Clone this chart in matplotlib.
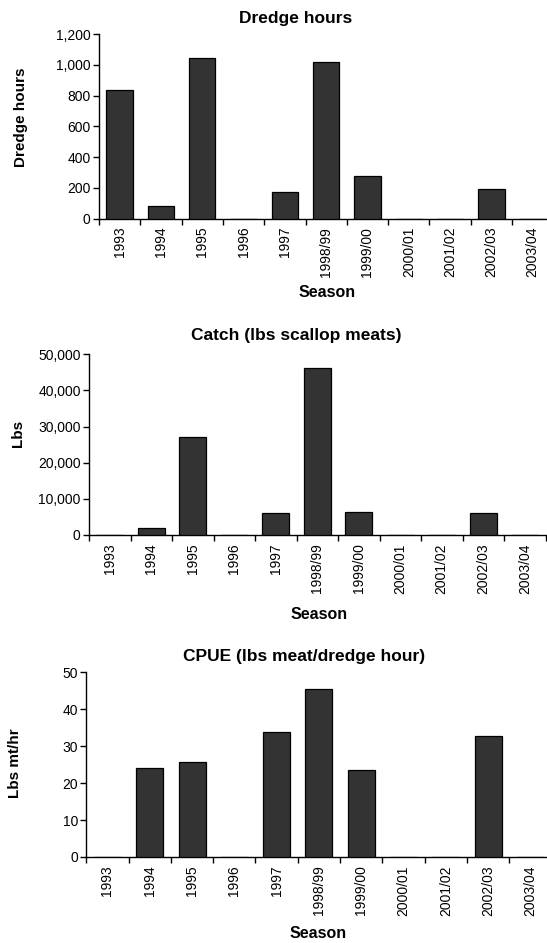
import matplotlib
matplotlib.use("Agg")
import matplotlib.pyplot as plt
from matplotlib.ticker import FuncFormatter, FixedLocator

plt.rcParams['font.family'] = ['Liberation Sans', 'DejaVu Sans']

seasons = ['1993', '1994', '1995', '1996', '1997', '1998/99', '1999/00',
           '2000/01', '2001/02', '2002/03', '2003/04']

# values
dredge_hours = [837, 83, 1045, 0, 171, 1020, 279, 0, 0, 190, 0]
catch_lbs = [0, 1840, 27100, 0, 5960, 46200, 6340, 0, 0, 5960, 0]
cpue = [0, 24.0, 25.7, 0, 33.8, 45.4, 23.6, 0, 0, 32.7, 0]

W, H = 547, 943

# plot area edges in pixels, width of one category, text anchors (baselines)
panels = [
    dict(values=dredge_hours, title='Dredge hours', ylabel='Dredge hours',
         left=99, top=34.3, bottom=218.5, step=41.3, ymax=1200, ystep=200,
         title_xy=(296, 22.5), ylabel_xy=(21, 117), season_xy=(327, 297)),
    dict(values=catch_lbs, title='Catch (lbs scallop meats)', ylabel='Lbs',
         left=89, top=354.3, bottom=535, step=41.5, ymax=50000, ystep=10000,
         title_xy=(296, 340), ylabel_xy=(18, 433), season_xy=(319, 619)),
    dict(values=cpue, title='CPUE (lbs meat/dredge hour)', ylabel='Lbs mt/hr',
         left=86.3, top=672.3, bottom=857, step=42.3, ymax=50, ystep=10,
         title_xy=(304, 660.5), ylabel_xy=(15, 763), season_xy=(318, 938)),
]

fig = plt.figure(figsize=(W / 100, H / 100), dpi=100)

for p in panels:
    ax = fig.add_axes([p['left'] / W, 1 - p['bottom'] / H,
                       (W - p['left']) / W, (p['bottom'] - p['top']) / H])
    x = list(range(len(seasons)))
    ax.bar(x, p['values'], width=0.64, color='#333333', edgecolor='black',
           linewidth=0.9, zorder=3)

    ax.set_xlim(-0.5, -0.5 + (W - p['left']) / p['step'])
    ax.set_ylim(0, p['ymax'])
    ax.set_yticks(range(0, p['ymax'] + 1, p['ystep']))
    ax.yaxis.set_major_formatter(FuncFormatter(lambda v, pos: f'{int(v):,}'))

    # boundary ticks between categories, labels centred under the bars
    ax.xaxis.set_major_locator(FixedLocator([i - 0.5 for i in range(len(seasons) + 1)]))
    ax.xaxis.set_major_formatter(FuncFormatter(lambda v, pos: ''))
    ax.set_xticks(x, minor=True)
    ax.set_xticklabels(seasons, minor=True, rotation=90, fontsize=10)
    ax.tick_params(axis='x', which='minor', length=0, pad=6)
    ax.tick_params(axis='x', which='major', length=4, width=1, direction='out')
    ax.tick_params(axis='y', length=4, width=1, labelsize=10, pad=2)

    for s in ['top', 'right']:
        ax.spines[s].set_visible(False)
    for s in ['left', 'bottom']:
        ax.spines[s].set_linewidth(1)

    fig.text(p['title_xy'][0] / W, 1 - p['title_xy'][1] / H, p['title'],
             ha='center', va='baseline', fontsize=12.5, fontweight='bold')
    fig.text(p['ylabel_xy'][0] / W, 1 - p['ylabel_xy'][1] / H, p['ylabel'],
             rotation=90, ha='center', va='center', fontsize=11, fontweight='bold')
    fig.text(p['season_xy'][0] / W, 1 - p['season_xy'][1] / H, 'Season',
             ha='center', va='baseline', fontsize=11.5, fontweight='bold')

fig.savefig('out.png', dpi=100)
